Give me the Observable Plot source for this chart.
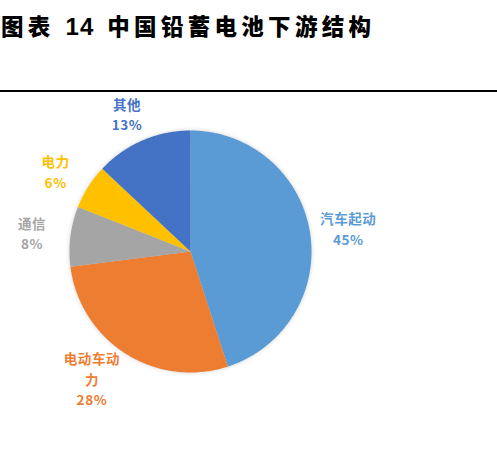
<!DOCTYPE html>
<html><head><meta charset="utf-8">
<script src="https://cdn.jsdelivr.net/npm/d3@7"></script>
<script src="https://cdn.jsdelivr.net/npm/@observablehq/plot@0.6"></script>
<style>
body{margin:0;background:#fff;width:497px;height:451px;overflow:hidden;position:relative;}
#title{position:absolute;left:1px;top:8px;font-family:"Noto Sans CJK SC";font-weight:900;font-size:22.5px;letter-spacing:4.3px;color:#000;white-space:nowrap;line-height:34px}
#title .num{font-family:"Liberation Sans",Arial,sans-serif;font-weight:700;font-size:24px;letter-spacing:1px;margin:0 13px 0 11px}
#rule{position:absolute;left:0;top:90px;width:497px;height:2px;background:#000}
#chart{position:absolute;left:0;top:92px}
#chart svg .slices{filter:drop-shadow(0 0 2px rgba(0,0,0,0.18));}
#chart svg text{letter-spacing:0.6px}
</style></head><body>
<div id="title">图表<span class="num">14</span>中国铅蓄电池下游结构</div>
<div id="rule"></div>
<div id="chart"></div>
<script>
const categories = ["汽车起动", "电动车动力", "通信", "电力", "其他"];
const shares = [45, 28, 8, 6, 13];
const colors = ["#5B9BD5", "#ED7D31", "#A5A5A5", "#FFC000", "#4472C4"];

const arcs = d3.pie().sort(null).value(d => d)(shares);

// slice polygons in unit-circle data space (angle 0 at 12 o'clock, clockwise)
const sliceRows = [];
arcs.forEach((a, i) => {
  sliceRows.push({cat: categories[i], x: 0, y: 0});
  const n = Math.max(2, Math.ceil((a.endAngle - a.startAngle) / (Math.PI / 360)));
  for (let k = 0; k <= n; k++) {
    const t = a.startAngle + (a.endAngle - a.startAngle) * k / n;
    sliceRows.push({cat: categories[i], x: Math.sin(t), y: Math.cos(t)});
  }
});

// labels outside the pie at mid-angle (slightly elliptical placement)
const chunk = (s, n) => s.match(new RegExp(".{1," + n + "}", "g")).join("\n");
const labelRows = arcs.map((a, i) => {
  const m = (a.startAngle + a.endAngle) / 2;
  const wide = categories[i].length > 4 ? 0.2 : 0;
  return {cat: categories[i], x: (1.32 + wide) * Math.sin(m), y: 1.24 * Math.cos(m),
          text: chunk(categories[i], 4) + "\n" + shares[i] + "%"};
});

const cx = 190, cy = 159, r = 121;
const chart = Plot.plot({
  width: 497,
  height: 359,
  x: {domain: [-1, 1], range: [cx - r, cx + r], axis: null},
  y: {domain: [-1, 1], range: [cy + r, cy - r], axis: null},
  color: {domain: categories, range: colors},
  style: {background: "transparent"},
  marks: [
    Plot.line(sliceRows, {x: "x", y: "y", z: "cat", fill: "cat", stroke: "none", curve: "linear-closed", className: "slices"}),
    Plot.text(labelRows, {x: "x", y: "y", text: "text", fill: "cat", fontSize: 13.5, fontWeight: "bold",
      fontFamily: "'Noto Sans CJK SC', sans-serif", lineHeight: 1.5})
  ]
});
document.getElementById("chart").appendChild(chart);
</script>
</body></html>
